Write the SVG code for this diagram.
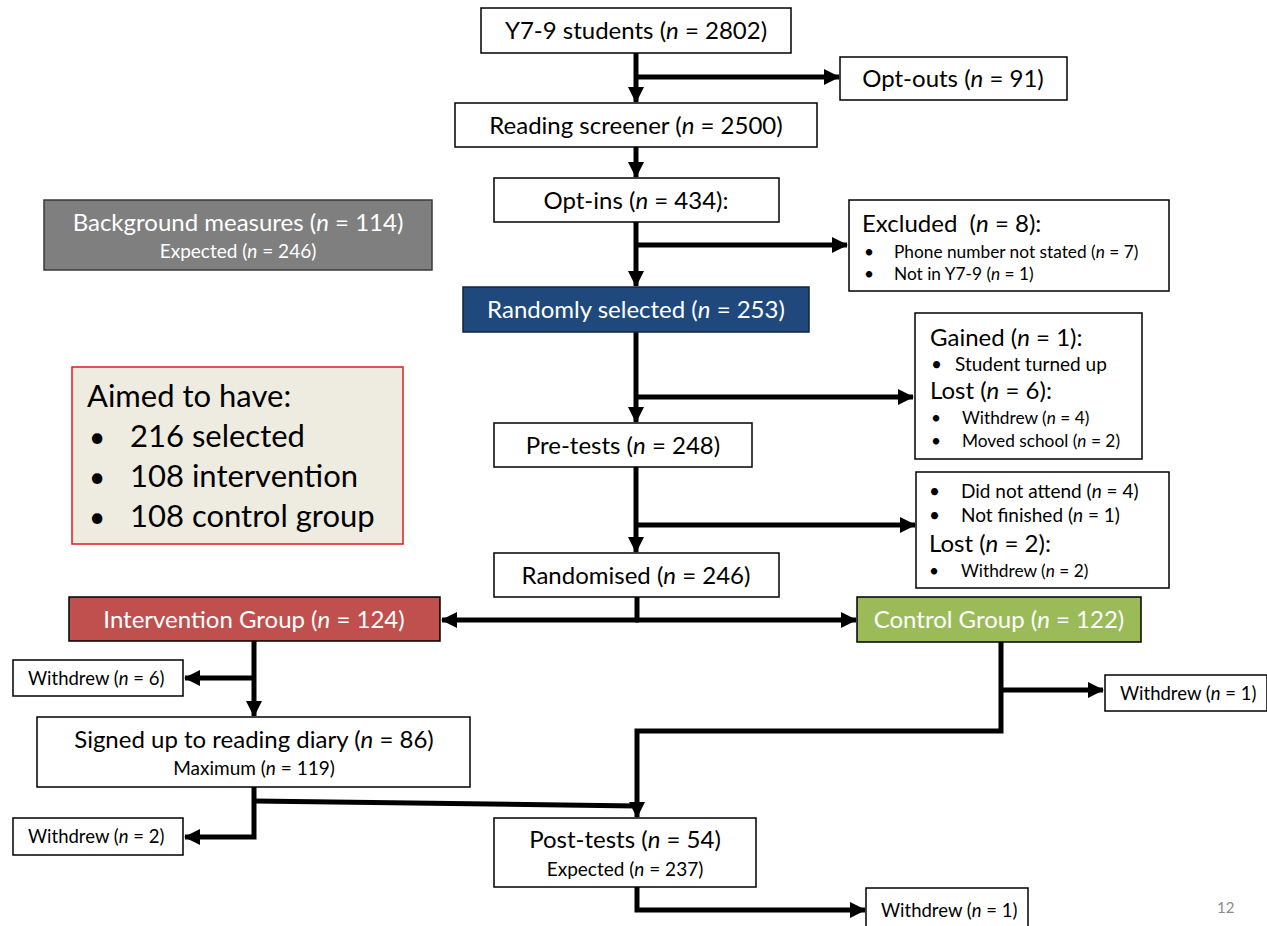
<svg xmlns="http://www.w3.org/2000/svg" width="1267" height="926" viewBox="0 0 1267 926">
<style>
  text { font-family: Lato, "Liberation Sans", sans-serif; fill: #000; }
  .box { fill: #fff; stroke: #000; stroke-width: 1.5; }
  .m { font-size: 24px; text-anchor: middle; }
  .s { font-size: 19px; text-anchor: middle; }
  .sm { font-size: 17.3px; }
  .wd { font-size: 18.5px; }
  .h { font-size: 24px; }
  .b { font-size: 19px; }
  .w { fill: #fff; }
  .i { font-style: italic; }
  .con { fill: none; stroke: #000; stroke-width: 5; }
</style>
<defs>
  <marker id="ah" markerUnits="userSpaceOnUse" markerWidth="16" markerHeight="16" refX="15" refY="8" orient="auto">
    <path d="M0,0 L16,8 L0,16 z" fill="#000"/>
  </marker>
</defs>
<rect width="1267" height="926" fill="#fff"/>

<g id="connectors">
  <path class="con" d="M636,53 V102" marker-end="url(#ah)"/>
  <path class="con" d="M636,77 H839" marker-end="url(#ah)"/>
  <path class="con" d="M636,147 V177" marker-end="url(#ah)"/>
  <path class="con" d="M636,222 V286" marker-end="url(#ah)"/>
  <path class="con" d="M636,245 H847" marker-end="url(#ah)"/>
  <path class="con" d="M636,332 V422" marker-end="url(#ah)"/>
  <path class="con" d="M636,397 H913" marker-end="url(#ah)"/>
  <path class="con" d="M636,467 V552" marker-end="url(#ah)"/>
  <path class="con" d="M636,525 H915" marker-end="url(#ah)"/>
  <path class="con" d="M637,597 V622"/>
  <path class="con" d="M639,620 H442" marker-end="url(#ah)"/>
  <path class="con" d="M635,620 H856" marker-end="url(#ah)"/>
  <path class="con" d="M254,641 V716" marker-end="url(#ah)"/>
  <path class="con" d="M256,678 H185" marker-end="url(#ah)"/>
  <path class="con" d="M1001,642 V731 H637 V817" marker-end="url(#ah)"/>
  <path class="con" d="M999,690 H1103" marker-end="url(#ah)"/>
  <path class="con" d="M254,787 V837 H185" marker-end="url(#ah)"/>
  <path class="con" d="M252,801 L637,806"/>
  <path class="con" d="M637,887 V910 H865" marker-end="url(#ah)"/>
</g>

<g id="n-students">
  <rect class="box" x="481" y="8" width="310" height="45"/>
  <text class="m" x="636" y="39">Y7-9 students (<tspan class="i">n</tspan> = 2802)</text>
</g>
<g id="n-optouts">
  <rect class="box" x="840" y="57" width="227" height="43"/>
  <text class="m" x="953" y="87">Opt-outs (<tspan class="i">n</tspan> = 91)</text>
</g>
<g id="n-screener">
  <rect class="box" x="455" y="103" width="362" height="44"/>
  <text class="m" x="636" y="134">Reading screener (<tspan class="i">n</tspan> = 2500)</text>
</g>
<g id="n-optins">
  <rect class="box" x="494" y="178" width="285" height="44"/>
  <text class="m" x="636" y="209">Opt-ins (<tspan class="i">n</tspan> = 434):</text>
</g>
<g id="n-excluded">
  <rect class="box" x="849" y="200" width="320" height="91"/>
  <text class="h" x="862" y="232">Excluded&#160; (<tspan class="i">n</tspan> = 8):</text>
  <text class="sm" x="864" y="258">•</text>
  <text class="sm" x="894" y="258">Phone number not stated (<tspan class="i">n</tspan> = 7)</text>
  <text class="sm" x="864" y="280">•</text>
  <text class="sm" x="894" y="280">Not in Y7-9 (<tspan class="i">n</tspan> = 1)</text>
</g>
<g id="n-background">
  <rect x="44" y="200" width="388" height="70" fill="#7f7f7f" stroke="#3a3a3a" stroke-width="1.5"/>
  <text class="m w" x="238" y="231">Background measures (<tspan class="i">n</tspan> = 114)</text>
  <text class="s w" x="238" y="258">Expected (<tspan class="i">n</tspan> = 246)</text>
</g>
<g id="n-randsel">
  <rect x="463" y="287" width="346" height="45" fill="#1f497d" stroke="#10253f" stroke-width="1.5"/>
  <text class="m w" x="636" y="318">Randomly selected (<tspan class="i">n</tspan> = 253)</text>
</g>
<g id="n-gained">
  <rect class="box" x="915" y="313" width="227" height="146"/>
  <text class="h" x="930" y="346">Gained (<tspan class="i">n</tspan> = 1):</text>
  <text class="b" x="931" y="371">•</text>
  <text class="b" x="955" y="371">Student turned up</text>
  <text class="h" x="930" y="399">Lost (<tspan class="i">n</tspan> = 6):</text>
  <text class="sm" x="931" y="424">•</text>
  <text class="sm" x="962" y="424">Withdrew (<tspan class="i">n</tspan> = 4)</text>
  <text class="sm" x="931" y="447">•</text>
  <text class="sm" x="962" y="447">Moved school (<tspan class="i">n</tspan> = 2)</text>
</g>
<g id="n-aimed">
  <rect x="72" y="367" width="331" height="177" fill="#eeece1" stroke="#e3191c" stroke-width="1.5"/>
  <text x="87" y="407" font-size="31">Aimed to have:</text>
  <text x="89" y="447" font-size="28">•</text>
  <text x="130" y="447" font-size="31">216 selected</text>
  <text x="89" y="487" font-size="28">•</text>
  <text x="130" y="487" font-size="31">108 intervention</text>
  <text x="89" y="527" font-size="28">•</text>
  <text x="130" y="527" font-size="31">108 control group</text>
</g>
<g id="n-pretests">
  <rect class="box" x="494" y="423" width="258" height="44"/>
  <text class="m" x="623" y="454">Pre-tests (<tspan class="i">n</tspan> = 248)</text>
</g>
<g id="n-didnot">
  <rect class="box" x="916" y="472" width="253" height="116"/>
  <text class="b" x="929" y="498">•</text>
  <text class="b" x="961" y="498">Did not attend (<tspan class="i">n</tspan> = 4)</text>
  <text class="b" x="929" y="522">•</text>
  <text class="b" x="961" y="522">Not finished (<tspan class="i">n</tspan> = 1)</text>
  <text class="h" x="929" y="552">Lost (<tspan class="i">n</tspan> = 2):</text>
  <text class="sm" x="929" y="577">•</text>
  <text class="sm" x="961" y="577">Withdrew (<tspan class="i">n</tspan> = 2)</text>
</g>
<g id="n-randomised">
  <rect class="box" x="494" y="553" width="285" height="44"/>
  <text class="m" x="636" y="584">Randomised (<tspan class="i">n</tspan> = 246)</text>
</g>
<g id="n-intervention">
  <rect x="69" y="597" width="371" height="44" fill="#c0504d" stroke="#000" stroke-width="1.5"/>
  <text class="m w" x="254" y="628">Intervention Group (<tspan class="i">n</tspan> = 124)</text>
</g>
<g id="n-control">
  <rect x="857" y="597" width="284" height="45" fill="#9bbb59" stroke="#000" stroke-width="1.5"/>
  <text class="m w" x="999" y="628">Control Group (<tspan class="i">n</tspan> = 122)</text>
</g>
<g id="n-withdrew6">
  <rect class="box" x="13" y="660" width="170" height="36"/>
  <text class="wd" x="28" y="685">Withdrew (<tspan class="i">n</tspan> = 6)</text>
</g>
<g id="n-withdrew1c">
  <rect class="box" x="1105" y="675" width="162" height="36"/>
  <text class="wd" x="1120" y="700">Withdrew (<tspan class="i">n</tspan> = 1)</text>
</g>
<g id="n-signed">
  <rect class="box" x="37" y="717" width="433" height="70"/>
  <text class="m" x="254" y="748">Signed up to reading diary (<tspan class="i">n</tspan> = 86)</text>
  <text class="s" x="254" y="775">Maximum (<tspan class="i">n</tspan> = 119)</text>
</g>
<g id="n-withdrew2">
  <rect class="box" x="13" y="818" width="170" height="37"/>
  <text class="wd" x="28" y="843">Withdrew (<tspan class="i">n</tspan> = 2)</text>
</g>
<g id="n-posttests">
  <rect class="box" x="494" y="818" width="262" height="69"/>
  <text class="m" x="625" y="848">Post-tests (<tspan class="i">n</tspan> = 54)</text>
  <text class="s" x="625" y="876">Expected (<tspan class="i">n</tspan> = 237)</text>
</g>
<g id="n-withdrew1p">
  <rect class="box" x="866" y="888" width="162" height="40"/>
  <text class="wd" x="881" y="917">Withdrew (<tspan class="i">n</tspan> = 1)</text>
</g>
<text x="1217" y="913" font-size="15" style="fill:#8c8c8c">12</text>
</svg>
